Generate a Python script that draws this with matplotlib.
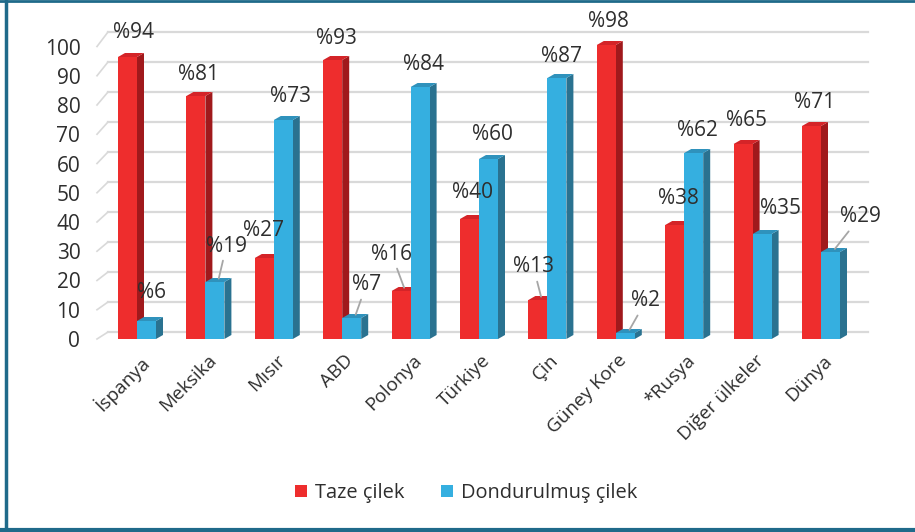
import matplotlib.pyplot as plt
from matplotlib.patches import Polygon, Patch
from matplotlib.lines import Line2D

plt.rcParams['font.family'] = ['Open Sans', 'DejaVu Sans']

countries = ["İspanya", "Meksika", "Mısır", "ABD", "Polonya", "Türkiye", "Çin",
             "Güney Kore", "*Rusya", "Diğer ülkeler", "Dünya"]
fresh = [94, 81, 27, 93, 16, 40, 13, 98, 38, 65, 71]
frozen = [6, 19, 73, 7, 84, 60, 87, 2, 62, 35, 29]
series_names = ["Taze çilek", "Dondurulmuş çilek"]
yticks = [0, 10, 20, 30, 40, 50, 60, 70, 80, 90, 100]

# label offsets in pixels (x, up) from the bar top, and whether a leader line is drawn
fresh_off = [(2, 22), (-1, 19), (-4, 25), (0, 20), (-13, 35), (0, 24), (-8, 31), (-1, 22), (0, 25), (0, 22), (0, 22)]
fresh_lead = [False, False, False, False, True, False, True, False, False, False, False]
frozen_off = [(1, 26), (8, 34), (4, 22), (11, 31), (0, 21), (0, 22), (1, 20), (17, 30), (0, 21), (15, 24), (26, 33)]
frozen_lead = [False, True, False, True, False, False, False, True, False, False, True]

red, red_side, red_top = "#EE2D2D", "#A0191C", "#D42428"
blue, blue_side, blue_top = "#35AFE0", "#2A7290", "#2F92BC"
txt = "#2E2E2E"

fig = plt.figure(figsize=(9.15, 5.32), dpi=100)
W, H = 915, 532
ax = fig.add_axes([97 / W, (H - 339) / H, (868 - 97) / W, 315 / H])

px_x = 1 / 68.4   # data units per pixel
px_y = 1 / 3.0
ax.set_xlim(-40 * px_x, 731 * px_x)
ax.set_ylim(0, 105)

w = 19 * px_x
ddx, ddy = 7 * px_x, 4 * px_y        # bar depth
wdx, wdy = 11 * px_x, 7 * px_y       # back wall offset
x0 = ax.get_xlim()[0]

# back wall grid lines + perspective diagonals
for v in yticks:
    ax.plot([x0 + wdx, ax.get_xlim()[1]], [v + wdy, v + wdy], color="#D9D9D9", lw=1.6, zorder=1, clip_on=False)
    ax.plot([x0, x0 + wdx], [v * 0.975, v + wdy], color="#D9D9D9", lw=1.2, zorder=1, clip_on=False)


def bar3d(xl, v, front, side, top):
    xr = xl + w
    ax.add_patch(Polygon([(xr, 0), (xr + ddx, ddy), (xr + ddx, v + ddy), (xr, v)], closed=True,
                         facecolor=side, edgecolor="none", zorder=3))
    ax.add_patch(Polygon([(xl, v), (xl + ddx, v + ddy), (xr + ddx, v + ddy), (xr, v)], closed=True,
                         facecolor=top, edgecolor="none", zorder=3))
    ax.add_patch(Polygon([(xl, 0), (xl, v), (xr, v), (xr, 0)], closed=True,
                         facecolor=front, edgecolor="none", zorder=4))


for i in range(len(countries)):
    bar3d(i - w, fresh[i], red, red_side, red_top)
    bar3d(i, frozen[i], blue, blue_side, blue_top)


def label(cx, v, off, lead):
    props = None
    if lead:
        props = dict(arrowstyle="-", color="#A6A6A6", lw=1.3, shrinkA=1, shrinkB=1)
    ax.annotate(f"%{v}", xy=(cx + ddx / 2, v + ddy / 2), xytext=off, textcoords="offset pixels",
                ha="center", va="center", fontsize=15, color=txt, arrowprops=props, zorder=6,
                annotation_clip=False)


for i in range(len(countries)):
    label(i - w / 2, fresh[i], fresh_off[i], fresh_lead[i])
    label(i + w / 2, frozen[i], frozen_off[i], frozen_lead[i])

ax.set_yticks([v * 0.975 for v in yticks], labels=[str(v) for v in yticks])
ax.tick_params(axis="y", length=0, pad=12, labelsize=15, labelcolor=txt)
ax.set_xticks([i + 0.03 for i in range(len(countries))], labels=countries)
ax.tick_params(axis="x", length=0, pad=9, labelsize=13.7, labelcolor=txt)
for t in ax.get_xticklabels():
    t.set_rotation(45)
    t.set_ha("right")
    t.set_rotation_mode("anchor")

for s in ax.spines.values():
    s.set_visible(False)

handles = [Patch(facecolor=red), Patch(facecolor=blue)]
fig.legend(handles, series_names, loc="center", bbox_to_anchor=(466 / W, 1 - 493 / H), ncol=2,
           frameon=False, fontsize=14.4, handlelength=0.6, handleheight=0.6, handletextpad=0.4,
           columnspacing=1.8, labelcolor=txt)

# outer frame
fc = "#1F6A8A"
fig.add_artist(Line2D([5.5 / W, 5.5 / W], [0, 1], color=fc, lw=2.5, transform=fig.transFigure))
fig.add_artist(Line2D([0, 1], [1 - 1 / H, 1 - 1 / H], color=fc, lw=2, transform=fig.transFigure))
fig.add_artist(Line2D([0, 1], [2 / H, 2 / H], color=fc, lw=3, transform=fig.transFigure))

plt.savefig("out.png", dpi=100)
